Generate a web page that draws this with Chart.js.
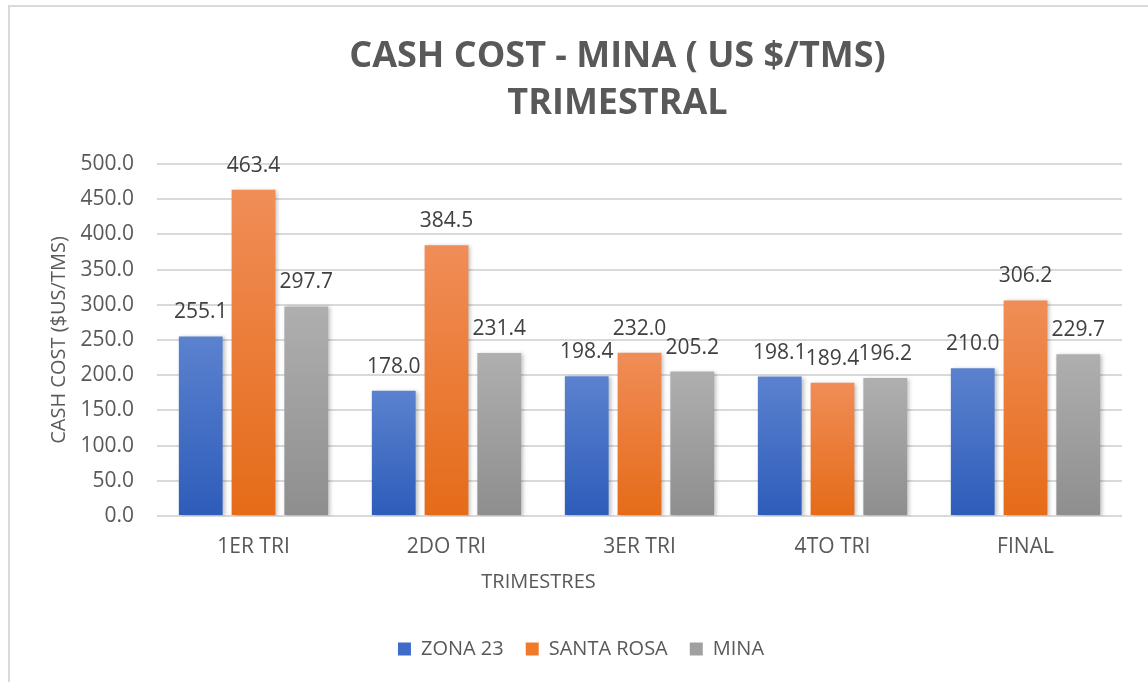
<!DOCTYPE html>
<html>
<head>
<meta charset="utf-8">
<script src="https://cdn.jsdelivr.net/npm/chart.js@4"></script>
<style>
  html, body { margin: 0; padding: 0; background: #fff; overflow: hidden; }
  .frame {
    position: absolute; left: 8px; top: 5px; width: 1160px; height: 700px;
    border-left: 2px solid #d9d9d9; border-top: 2px solid #d9d9d9;
  }
  .wrap { position: absolute; left: 0; top: 0; width: 1148px; height: 682px; }
</style>
</head>
<body>
<div class="frame"></div>
<div class="wrap"><canvas id="barChart"></canvas></div>
<script>
const categories = ["1ER TRI", "2DO TRI", "3ER TRI", "4TO TRI", "FINAL"];
const zona23 = [255.1, 178.0, 198.4, 198.1, 210.0];
const santaRosa = [463.4, 384.5, 232.0, 189.4, 306.2];
const mina = [297.7, 231.4, 205.2, 196.2, 229.7];
const seriesNames = ["ZONA 23", "SANTA ROSA", "MINA"];
const titleLines = ["CASH COST - MINA ( US $/TMS)", "TRIMESTRAL"];
const xTitle = "TRIMESTRES";
const yTitle = "CASH COST ($US/TMS)";

const textColor = "#595959";
const fontFamily = "'Open Sans', 'Liberation Sans', sans-serif";

// gradient per bar, light on top, dark at bottom (like the excel fill)
const barGradient = (top, bottom) => (ctx) => {
  const chart = ctx.chart;
  const yScale = chart.scales.y;
  if (!yScale || ctx.raw === undefined) return bottom;
  const yTop = yScale.getPixelForValue(ctx.raw);
  const yBase = yScale.getPixelForValue(0);
  if (!isFinite(yTop) || !isFinite(yBase) || yTop === yBase) return bottom;
  const g = chart.ctx.createLinearGradient(0, yTop, 0, yBase);
  g.addColorStop(0, top);
  g.addColorStop(1, bottom);
  return g;
};

// value labels above each bar
const valueLabels = {
  id: "valueLabels",
  afterDatasetsDraw(chart) {
    const ctx = chart.ctx;
    ctx.save();
    ctx.font = "21px " + fontFamily;
    ctx.fillStyle = "#404040";
    ctx.textAlign = "center";
    ctx.textBaseline = "middle";
    chart.data.datasets.forEach((ds, i) => {
      chart.getDatasetMeta(i).data.forEach((bar, j) => {
        ctx.fillText(ds.data[j].toFixed(1), bar.x, bar.y - 24);
      });
    });
    ctx.restore();
  },
};

// titles placed off-center like in the excel original
const titles = {
  id: "titles",
  afterDraw(chart) {
    const ctx = chart.ctx;
    const area = chart.chartArea;
    const mid = (area.left + area.right) / 2;
    ctx.save();
    ctx.fillStyle = textColor;
    ctx.textAlign = "center";
    ctx.textBaseline = "middle";
    ctx.font = "bold 36px " + fontFamily;
    titleLines.forEach((line, i) => {
      ctx.fillText(line, mid - 22, 57 + i * 47);
    });
    ctx.font = "20px " + fontFamily;
    ctx.fillText(xTitle, mid - 101, area.bottom + 66);
    ctx.restore();

    ctx.save();
    ctx.fillStyle = textColor;
    ctx.font = "20px " + fontFamily;
    ctx.textAlign = "center";
    ctx.textBaseline = "middle";
    ctx.translate(area.left - 98, (area.top + area.bottom) / 2);
    ctx.rotate(-Math.PI / 2);
    ctx.fillText(yTitle, 0, 0);
    ctx.restore();
  },
};

// soft shadow behind the bars
const barShadow = {
  id: "barShadow",
  beforeDatasetsDraw(chart) {
    const ctx = chart.ctx;
    ctx.save();
    ctx.shadowColor = "rgba(0,0,0,0.25)";
    ctx.shadowBlur = 4;
    ctx.shadowOffsetX = 2;
    ctx.shadowOffsetY = 1;
  },
  afterDatasetsDraw(chart) {
    chart.ctx.restore();
  },
};

const ctx = document.getElementById("barChart").getContext("2d");
const barChart = new Chart(ctx, {
  type: "bar",
  data: {
    labels: categories,
    datasets: [
      {
        label: seriesNames[0],
        data: zona23,
        backgroundColor: barGradient("#5b82cf", "#2d5cb9"),
      },
      {
        label: seriesNames[1],
        data: santaRosa,
        backgroundColor: barGradient("#f08d57", "#e56b18"),
      },
      {
        label: seriesNames[2],
        data: mina,
        backgroundColor: barGradient("#afafaf", "#8e8e8e"),
      },
    ],
  },
  options: {
    responsive: true,
    maintainAspectRatio: false,
    animation: false,
    categoryPercentage: 0.82,
    barPercentage: 0.83,
    layout: {
      padding: { left: 40, right: 26, top: 164, bottom: 13 },
    },
    plugins: {
      title: { display: false },
      legend: {
        position: "bottom",
        labels: {
          color: textColor,
          font: { family: fontFamily, size: 20 },
          boxWidth: 13,
          boxHeight: 13,
          padding: 22,
          generateLabels(chart) {
            const solid = ["#3f6cc8", "#ef7a2a", "#a0a0a0"];
            return chart.data.datasets.map((ds, i) => ({
              text: ds.label,
              fillStyle: solid[i],
              strokeStyle: solid[i],
              lineWidth: 0,
              fontColor: textColor,
              datasetIndex: i,
              hidden: false,
            }));
          },
        },
      },
      tooltip: { enabled: false },
    },
    scales: {
      x: {
        grid: { display: false, drawTicks: false },
        border: { display: false },
        ticks: {
          color: textColor,
          font: { family: fontFamily, size: 21 },
          padding: 18,
        },
        afterFit: (scale) => {
          scale.height = 101;
        },
      },
      y: {
        min: 0,
        max: 500,
        grid: { color: "#d9d9d9", lineWidth: 2, drawTicks: false },
        border: { display: false },
        ticks: {
          stepSize: 50,
          color: textColor,
          font: { family: fontFamily, size: 21 },
          padding: 23,
          callback: (v) => v.toFixed(1),
        },
        afterFit: (scale) => {
          scale.width = 117;
        },
      },
    },
  },
  plugins: [barShadow, valueLabels, titles],
});
</script>
</body>
</html>
